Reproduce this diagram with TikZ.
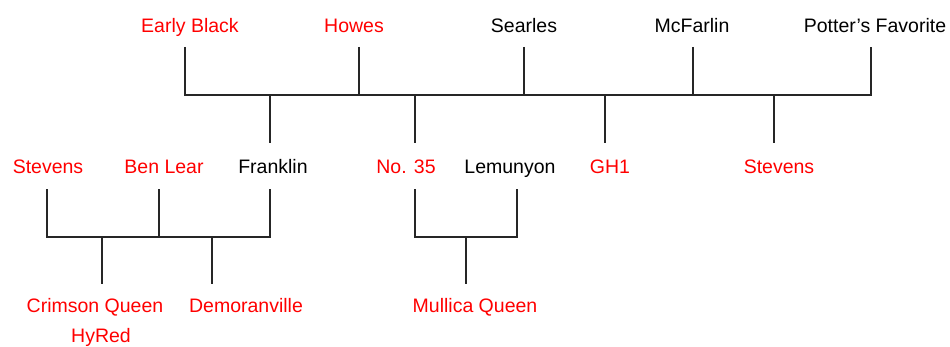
\documentclass[tikz,border=0pt]{standalone}
\usepackage{fontspec}
\setmainfont{Liberation Sans}
\begin{document}
\begin{tikzpicture}[x=1pt,y=1pt,
  lbl/.style={anchor=base, font=\fontsize{19.5}{22}\selectfont, inner sep=0pt},
  hot/.style={lbl, text=red},
  cold/.style={lbl, text=black},
  link/.style={draw=black!85, line width=1.4pt}]
\useasboundingbox (0,0) rectangle (950,346);

% first generation
\node[hot]  (earlyblack) at (190,313) {Early Black};
\node[hot]  (howes)      at (354,313) {Howes};
\node[cold] (searles)    at (524,313) {Searles};
\node[cold] (mcfarlin)   at (692,313) {McFarlin};
\node[cold] (potters)    at (875,313) {Potter’s Favorite};

% second generation
\node[hot]  (stevensA)  at (48,173)  {Stevens};
\node[hot]  (benlear)   at (164,173) {Ben Lear};
\node[cold] (franklin)  at (273,173) {Franklin};
\node[hot]  (no35)      at (406,173) {No. 35};
\node[cold] (lemunyon)  at (510,173) {Lemunyon};
\node[hot]  (gh1)       at (610,173) {GH1};
\node[hot]  (stevensB)  at (779,173) {Stevens};

% third generation
\node[hot] (crimson)  at (95,34)  {Crimson Queen};
\node[hot] (hyred)    at (101,4)  {HyRed};
\node[hot] (demoran)  at (246,34) {Demoranville};
\node[hot] (mullica)  at (475,34) {Mullica Queen};

% top bracket
\coordinate (ebTop) at (185,299);
\coordinate (hoTop) at (359,299);
\coordinate (seTop) at (524,299);
\coordinate (mcTop) at (693,299);
\coordinate (pfTop) at (871,299);
\coordinate (barL)  at (185,251);
\coordinate (barR)  at (871,251);
\draw[link] (ebTop) -- (barL) -- (barR) -- (pfTop);
\draw[link] (hoTop) -- (hoTop |- barL);
\draw[link] (seTop) -- (seTop |- barL);
\draw[link] (mcTop) -- (mcTop |- barL);

% drops from the top bar
\coordinate (frDrop) at (270,203);
\coordinate (noDrop) at (415,203);
\coordinate (ghDrop) at (605,203);
\coordinate (stDrop) at (774,203);
\draw[link] (frDrop |- barL) -- (frDrop);
\draw[link] (noDrop |- barL) -- (noDrop);
\draw[link] (ghDrop |- barL) -- (ghDrop);
\draw[link] (stDrop |- barL) -- (stDrop);

% left bracket
\coordinate (saTop) at (47,157);
\coordinate (blTop) at (159,157);
\coordinate (frTop) at (270,157);
\coordinate (lbarL) at (47,109);
\coordinate (lbarR) at (270,109);
\draw[link] (saTop) -- (lbarL) -- (lbarR) -- (frTop);
\draw[link] (blTop) -- (blTop |- lbarL);
\coordinate (cqDrop) at (102,62);
\coordinate (deDrop) at (212,62);
\draw[link] (cqDrop |- lbarL) -- (cqDrop);
\draw[link] (deDrop |- lbarL) -- (deDrop);

% middle bracket
\coordinate (n3Top) at (415,157);
\coordinate (leTop) at (517,157);
\draw[link] (n3Top) -- (n3Top |- lbarL) -- (leTop |- lbarL) -- (leTop);
\coordinate (muDrop) at (466,62);
\draw[link] (muDrop |- lbarL) -- (muDrop);
\end{tikzpicture}
\end{document}
